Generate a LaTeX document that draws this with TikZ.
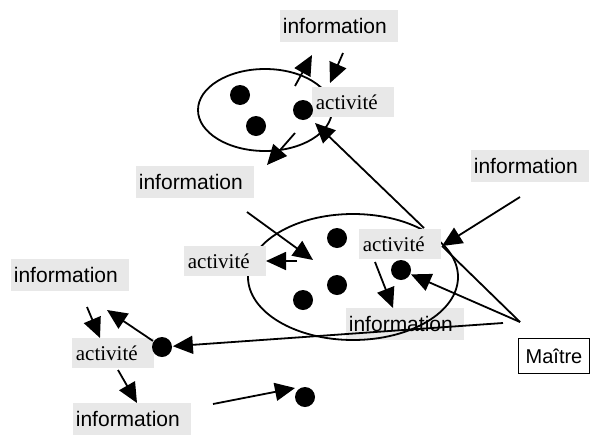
\documentclass[tikz,border=0pt]{standalone}
\usepackage{fontspec}
\setmainfont{Liberation Serif}
\setsansfont{Liberation Sans}
\usetikzlibrary{arrows.meta,positioning}

\begin{document}
\begin{tikzpicture}[x=1pt,y=-1pt,>={Triangle[length=20pt,width=18pt]},line width=1.8pt,
	info/.style={anchor=west,fill=black!9,font=\sffamily\fontsize{21}{25}\selectfont,text width=112pt,align=left,inner xsep=3pt,minimum height=32pt},
	act/.style={anchor=west,fill=black!9,font=\rmfamily\fontsize{21}{25}\selectfont,text width=74pt,align=left,inner xsep=4pt,minimum height=30pt},
	dot/.style={circle,fill=black,inner sep=0pt,minimum size=20pt}]
				  \useasboundingbox (0,0) rectangle (593,434);

				  \node[info]           (iMid)  at (345,324)  {information};
				  \draw (265,110) ellipse [x radius=67pt,y radius=41pt];
				  \draw (353,277) ellipse [x radius=105pt,y radius=63pt];

				  \node[info]           (iTop)  at (279,26)   {information};
				  \node[info]           (iLeft) at (135,182)  {information};
				  \node[info]           (iRight) at (470,166) {information};
				  \node[info]           (iLL)   at (10,275)   {information};
				  \node[info]           (iBot)  at (72,419)   {information};

				  \node[act]            (aTop)  at (311,102)  {activité};
				  \node[act]            (aMid)  at (183,261)  {activité};
				  \node[act]            (aRight) at (358,244) {activité};
				  \node[act]            (aLL)   at (71,353)   {activité};

				  \node[draw,font=\sffamily\fontsize{20}{24}\selectfont,inner xsep=7pt,minimum height=35pt,line width=1.2pt] (maitre) at (554,356) {Maître};

				  \node[dot] (d1) at (240,95)  {};
				  \node[dot] (d2) at (256,126) {};
				  \node[dot] (d3) at (303,110) {};
				  \node[dot] (d4) at (337,238) {};
				  \node[dot] (d5) at (337,285) {};
				  \node[dot] (d6) at (303,300) {};
				  \node[dot] (dR) at (401,270) {};
				  \node[dot] (dLL) at (162,347) {};
				  \node[dot] (dBot) at (305,397) {};

				  % free ends of the arrows
				  \coordinate (u1) at (295,86);  \coordinate (u2) at (312,55);
				  \coordinate (d1s) at (343,53); \coordinate (d2s) at (330,83);
				  \coordinate (l1) at (295,133); \coordinate (l2) at (267,165);
				  \coordinate (c1) at (424,228); \coordinate (c2) at (315,123);
				  \coordinate (e1) at (247,212); \coordinate (e2) at (313,260);
				  \coordinate (g1) at (297,261); \coordinate (g2) at (266,261);
				  \coordinate (r1) at (520,197); \coordinate (r2) at (442,246);
				  \coordinate (s1) at (375,262); \coordinate (s2) at (393,308);
				  \coordinate (m)  at (520,322); \coordinate (m2) at (503,323);
				  \coordinate (v1) at (87,307);  \coordinate (v2) at (100,338);
				  \coordinate (w2) at (107,310);
				  \coordinate (x1) at (118,370); \coordinate (x2) at (137,403);
				  \coordinate (y1) at (213,404); \coordinate (y2) at (295,388);

				\tikzset{flow/.style={->}}
				\path (u1)  edge [flow] (u2)
					  (d1s) edge [flow] (d2s)
					  (l1)  edge [flow] (l2)
					  (c1)  edge [flow] (c2)
					  (e1)  edge [flow] (e2)
					  (g1)  edge [flow] (g2)
					  (r1)  edge [flow] (r2)
					  (s1)  edge [flow] (s2)
					  (m)   edge        (r2)
					  (m)   edge [flow] (dR)
					  (m2)  edge [flow] (dLL)
					  (v1)  edge [flow] (v2)
					  (dLL) edge [flow] (w2)
					  (x1)  edge [flow] (x2)
					  (y1)  edge [flow] (y2);
			\end{tikzpicture}
\end{document}
